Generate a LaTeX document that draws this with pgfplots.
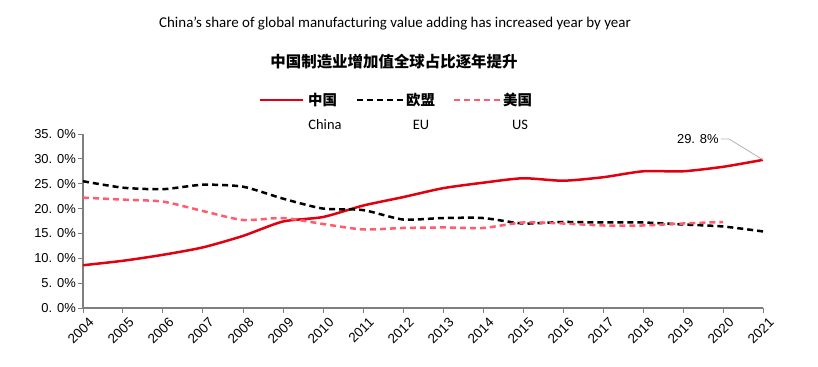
\documentclass[border=0pt]{standalone}
\usepackage{pgfplots}
\pgfplotsset{compat=1.18}
\usepackage{fontspec}
\setmainfont{Carlito}
\newfontfamily\cjk{Noto Sans CJK SC}
\newfontfamily\arial{Liberation Sans}
\definecolor{cnred}{HTML}{E0000F}
\definecolor{uspink}{HTML}{FF5C6E}
\definecolor{axgray}{HTML}{7F7F7F}
\begin{document}
\begin{tikzpicture}[x=1bp,y=1bp]
\path[use as bounding box] (0,0) rectangle (818,366);
\node[font=\fontsize{15}{17}\selectfont] at (395,342) {China's share of global manufacturing value adding has increased year by year};
\node[font=\cjk\bfseries\fontsize{15.5}{18}\selectfont] at (394,304) {中国制造业增加值全球占比逐年提升};
% legend
\draw[cnred, line width=2.5bp] (260,266) -- (303,266);
\node[anchor=west, inner sep=0, font=\cjk\bfseries\fontsize{14.5}{16}\selectfont] at (308,266) {中国};
\draw[black, line width=2.5bp, dash pattern=on 6bp off 4bp] (357,266) -- (403,266);
\node[anchor=west, inner sep=0, font=\cjk\bfseries\fontsize{14.5}{16}\selectfont] at (406,266) {欧盟};
\draw[uspink, line width=2.5bp, dash pattern=on 6bp off 4bp] (454,266) -- (500,266);
\node[anchor=west, inner sep=0, font=\cjk\bfseries\fontsize{14.5}{16}\selectfont] at (503,266) {美国};
\node[font=\fontsize{14.5}{16}\selectfont] at (325,241) {China};
\node[font=\fontsize{14.5}{16}\selectfont] at (421,241) {EU};
\node[font=\fontsize{14.5}{16}\selectfont] at (520,241) {US};
\begin{axis}[
  at={(83bp,58bp)}, anchor=south west,
  scale only axis, width=680bp, height=174bp,
  xmin=2004, xmax=2021, ymin=0, ymax=35,
  axis x line*=bottom, axis y line*=left,
  axis line style={axgray, line width=1.2bp},
  tick style={axgray, line width=1bp},
  tick align=outside, major tick length=5bp,
  xtick={2004,2005,...,2021},
  ytick={0,5,...,35},
  yticklabels={0. 0\%,5. 0\%,10. 0\%,15. 0\%,20. 0\%,25. 0\%,30. 0\%,35. 0\%},
  /pgf/number format/assume math mode=true,
  /pgf/number format/set thousands separator={},
  xticklabel style={rotate=45, anchor=north east, inner sep=1bp, yshift=-5bp, xshift=2bp, font=\arial\fontsize{13.5}{15}\selectfont},
  yticklabel style={font=\arial\fontsize{13}{15}\selectfont, inner sep=2bp},
  clip=false,
]
\addplot[cnred, line width=2.5bp, smooth, tension=0.4] coordinates {
(2004,8.6) (2005,9.5) (2006,10.7) (2007,12.2) (2008,14.5) (2009,17.4) (2010,18.3) (2011,20.6) (2012,22.3) (2013,24.1) (2014,25.2) (2015,26.1) (2016,25.6) (2017,26.3) (2018,27.5) (2019,27.5) (2020,28.4) (2021,29.8)};
\addplot[black, line width=2.5bp, dash pattern=on 6bp off 4bp, smooth, tension=0.4] coordinates {
(2004,25.5) (2005,24.2) (2006,23.9) (2007,24.8) (2008,24.4) (2009,22.0) (2010,20.0) (2011,19.7) (2012,17.8) (2013,18.1) (2014,18.1) (2015,17.0) (2016,17.3) (2017,17.2) (2018,17.2) (2019,16.8) (2020,16.4) (2021,15.4)};
\addplot[uspink, line width=2.5bp, dash pattern=on 6bp off 4bp, smooth, tension=0.4] coordinates {
(2004,22.2) (2005,21.8) (2006,21.4) (2007,19.5) (2008,17.7) (2009,18.1) (2010,16.9) (2011,15.8) (2012,16.1) (2013,16.2) (2014,16.1) (2015,17.2) (2016,17.0) (2017,16.6) (2018,16.6) (2019,17.0) (2020,17.3)};
\draw[gray!60, line width=0.8bp] (axis cs:2019.95,34.0) -- (axis cs:2020.15,34.0) -- (axis cs:2021,29.8);
\node[anchor=east, inner sep=1bp, font=\arial\fontsize{13}{15}\selectfont] at (axis cs:2019.92,34.0) {29. 8\%};
\end{axis}
\end{tikzpicture}
\end{document}
